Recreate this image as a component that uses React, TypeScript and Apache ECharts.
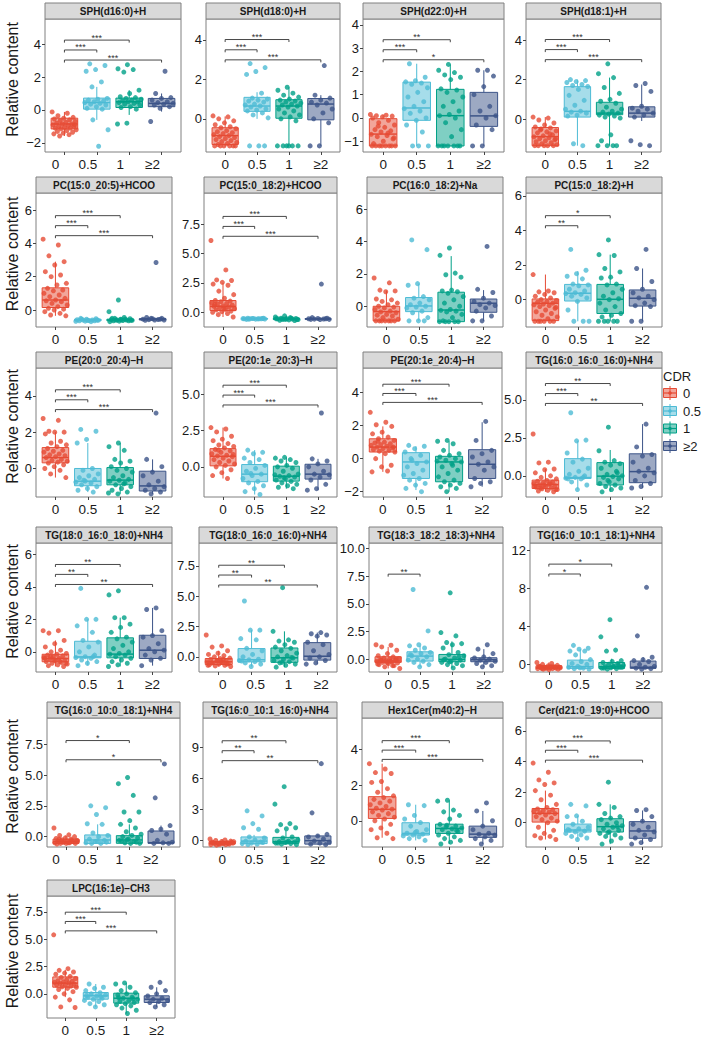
import React, { useEffect, useRef } from "react";
import * as echarts from "echarts";

const FONT = "'Liberation Sans', Arial, Helvetica, sans-serif";
const CATEGORIES = ["0", "0.5", "1", "≥2"];
const GROUP_COLORS = ["#E64B35", "#4DBBD5", "#00A087", "#3C5488"];
const GROUP_FILLS = ["rgba(230,75,53,0.5)", "rgba(77,187,213,0.5)", "rgba(0,160,135,0.5)", "rgba(60,84,136,0.5)"];

const TITLES = [
  "SPH(d16:0)+H", "SPH(d18:0)+H", "SPH(d22:0)+H", "SPH(d18:1)+H",
  "PC(15:0_20:5)+HCOO", "PC(15:0_18:2)+HCOO", "PC(16:0_18:2)+Na", "PC(15:0_18:2)+H",
  "PE(20:0_20:4)–H", "PE(20:1e_20:3)–H", "PE(20:1e_20:4)–H", "TG(16:0_16:0_16:0)+NH4",
  "TG(18:0_16:0_18:0)+NH4", "TG(18:0_16:0_16:0)+NH4", "TG(18:3_18:2_18:3)+NH4", "TG(16:0_10:1_18:1)+NH4",
  "TG(16:0_10:0_18:1)+NH4", "TG(16:0_10:1_16:0)+NH4", "Hex1Cer(m40:2)–H", "Cer(d21:0_19:0)+HCOO",
  "LPC(16:1e)–CH3",
];

const Y_TICKS = [
  [-2, 0, 2, 4], [0, 2, 4], [-1, 0, 1, 2, 3, 4], [0, 2, 4],
  [0, 2, 4, 6], [0, 2.5, 5, 7.5], [0, 2, 4, 6], [0, 2, 4, 6],
  [0, 2, 4], [0, 2.5, 5], [-2, 0, 2, 4], [0, 2.5, 5],
  [0, 2, 4, 6], [0, 2.5, 5, 7.5], [0, 2.5, 5, 7.5, 10], [0, 4, 8, 12],
  [0, 2.5, 5, 7.5], [0, 3, 6, 9], [0, 2, 4], [0, 2, 4, 6],
  [0, 2.5, 5, 7.5],
];
const Y_DECIMALS = [0, 0, 0, 0, 0, 1, 0, 0, 0, 1, 0, 1, 0, 1, 1, 0, 1, 0, 0, 0, 1];
const Y_RANGE = [
  [-2.55, 5.52], [-1.68, 5.06], [-1.46, 4.25], [-1.67, 5.07],
  [-1.02, 7.02], [-1.25, 10.14], [-1.28, 7.0], [-1.58, 6.16],
  [-1.57, 5.53], [-2.07, 6.79], [-2.32, 5.48], [-1.39, 7.09],
  [-1.24, 6.69], [-1.25, 9.38], [-1.17, 10.51], [-0.8, 12.76],
  [-0.84, 9.63], [-0.68, 11.9], [-1.47, 5.76], [-1.59, 6.85],
  [-2.21, 8.95],
];

// ---- per-panel data: box = [lower whisker, Q1, median, Q3, upper whisker] per CDR group ----
const box01 = [[-1.58, -1.15, -0.85, -0.5, -0.12], [-0.6, 0.05, 0.45, 0.72, 1.4], [-0.3, 0.15, 0.5, 0.72, 1.2], [-0.1, 0.2, 0.4, 0.7, 1.0]];
const pts01 = [
  [-0.12, -0.2, -0.35, -0.45, -0.5, -0.55, -0.6, -0.65, -0.7, -0.75, -0.8, -0.85, -0.85, -0.9, -0.95, -1.0, -1.0, -1.05, -1.1, -1.1, -1.15, -1.2, -1.25, -1.3, -1.35, -1.4, -1.45, -1.5, -1.58, -0.9],
  [2.8, 2.7, 2.45, 2.35, 1.7, 1.4, 0.7, 0.65, 0.6, 0.55, 0.5, 0.45, 0.4, 0.35, 0.3, 0.2, 0.1, 0.05, -0.6, -1.2, -2.2],
  [2.75, 2.5, 2.45, 2.3, 1.2, 1.0, 0.8, 0.75, 0.7, 0.65, 0.6, 0.55, 0.5, 0.5, 0.45, 0.4, 0.35, 0.3, 0.2, 0.15, 0.05, -0.8, -0.85],
  [2.35, 1.0, 0.75, 0.7, 0.6, 0.5, 0.45, 0.4, 0.35, 0.3, 0.2, 0.1, -0.7],
];
const sig01 = [[0, 2, 4.24, "***"], [0, 1, 3.64, "***"], [0, 3, 3.03, "***"]];

const box02 = [[-1.4, -1.3, -0.85, -0.45, 0.12], [0.0, 0.38, 0.65, 1.09, 1.35], [-1.37, 0.03, 0.65, 0.97, 1.6], [-1.37, -0.05, 0.75, 1.03, 1.2]];
const pts02 = [
  [0.15, 0.1, 0.0, -0.1, -0.2, -0.3, -0.4, -0.45, -0.5, -0.6, -0.65, -0.7, -0.75, -0.8, -0.85, -0.9, -0.95, -1.0, -1.05, -1.1, -1.15, -1.2, -1.25, -1.3, -1.37, -1.37, -1.37, -1.37, -1.37, -1.37],
  [2.8, 2.6, 2.4, 2.25, 1.3, 1.05, 1.0, 0.95, 0.9, 0.85, 0.75, 0.7, 0.65, 0.6, 0.5, 0.45, 0.4, 0.3, 0.2, 0.05, -1.37, -1.37, -1.37],
  [1.6, 1.45, 1.3, 1.2, 1.1, 1.0, 0.95, 0.9, 0.85, 0.8, 0.75, 0.7, 0.65, 0.6, 0.5, 0.4, 0.3, 0.2, 0.1, 0.0, -0.1, -1.37, -1.37, -1.37, -1.37, -1.37, -1.37],
  [2.7, 1.2, 1.05, 0.95, 0.85, 0.8, 0.7, 0.5, 0.3, 0.0, -0.2, -1.37, -1.37],
];
const sig02 = [[0, 2, 4.02, "***"], [0, 1, 3.5, "***"], [0, 3, 2.99, "***"]];

const box03 = [[-1.2, -1.2, -0.69, -0.03, 0.15], [-1.2, -0.1, 0.43, 1.54, 2.33], [-1.2, -1.2, 0.1, 1.23, 2.3], [-1.2, -0.36, 0.09, 1.1, 2.05]];
const pts03 = [
  [0.15, 0.12, 0.1, 0.08, 0.05, 0.0, -0.1, -0.2, -0.3, -0.4, -0.5, -0.55, -0.6, -0.7, -0.75, -0.8, -0.9, -1.0, -1.1, -1.2, -1.2, -1.2, -1.2, -1.2, -1.2, -1.2, -1.2, -0.65, -0.35, -0.85],
  [2.33, 1.75, 1.6, 1.55, 1.5, 1.45, 1.3, 1.1, 0.9, 0.7, 0.5, 0.4, 0.3, 0.2, 0.0, -0.1, -0.3, -0.6, -1.2, -1.2, -1.2],
  [2.3, 2.05, 1.95, 1.85, 1.75, 1.65, 1.25, 1.2, 1.1, 0.9, 0.7, 0.5, 0.3, 0.15, 0.1, 0.0, -0.2, -0.5, -0.8, -1.2, -1.2, -1.2, -1.2, -1.2, -1.2, -1.2],
  [2.05, 2.05, 1.8, 1.35, 1.0, 0.5, 0.3, 0.1, 0.0, -0.3, -0.5, -1.2, -1.2],
];
const sig03 = [[0, 2, 3.36, "**"], [0, 1, 2.93, "***"], [0, 3, 2.5, "*"]];

const box04 = [[-1.35, -1.35, -0.89, -0.43, 0.1], [-1.35, 0.1, 0.39, 1.64, 2.0], [-1.35, 0.22, 0.3, 0.85, 2.1], [-0.1, 0.1, 0.3, 0.62, 1.75]];
const pts04 = [
  [0.1, 0.05, -0.05, -0.2, -0.3, -0.4, -0.45, -0.5, -0.6, -0.65, -0.7, -0.8, -0.85, -0.9, -0.95, -1.0, -1.05, -1.1, -1.15, -1.2, -1.25, -1.3, -1.35, -1.35, -1.35, -1.35, -1.35, -0.75, -0.55, -1.0],
  [2.0, 1.95, 1.9, 1.85, 1.75, 1.7, 1.65, 1.5, 1.2, 0.95, 0.7, 0.5, 0.4, 0.35, 0.3, 0.2, 0.15, -1.35, -1.25],
  [2.8, 2.3, 2.1, 1.6, 1.3, 1.0, 0.9, 0.8, 0.6, 0.5, 0.4, 0.35, 0.3, 0.25, 0.2, 0.15, 0.1, 0.05, -0.8, -1.1, -1.35, -1.35, -1.35, -1.35],
  [1.8, 1.7, 1.4, 0.65, 0.55, 0.5, 0.4, 0.3, 0.2, 0.1, -1.35, -1.3, -1.1],
];
const sig04 = [[0, 2, 4.03, "***"], [0, 1, 3.52, "***"], [0, 3, 3.01, "***"]];

const box05 = [[-0.35, 0.15, 0.6, 1.33, 2.9], [-0.7, -0.65, -0.6, -0.55, -0.5], [-0.7, -0.65, -0.6, -0.55, -0.45], [-0.62, -0.6, -0.55, -0.52, -0.45]];
const pts05 = [
  [4.25, 3.9, 3.25, 2.9, 2.7, 2.3, 2.1, 2.0, 1.6, 1.5, 1.3, 1.2, 1.15, 1.0, 0.9, 0.8, 0.7, 0.6, 0.55, 0.5, 0.4, 0.3, 0.2, 0.1, 0.05, 0.0, -0.1, -0.2, -0.3, -0.35],
  [-0.5, -0.52, -0.55, -0.58, -0.6, -0.6, -0.62, -0.63, -0.65, -0.65, -0.67, -0.68, -0.7, -0.55, -0.6, -0.62],
  [0.6, -0.1, -0.45, -0.5, -0.52, -0.55, -0.58, -0.6, -0.6, -0.62, -0.63, -0.65, -0.65, -0.67, -0.7, -0.55, -0.6, -0.62, -0.58, -0.5],
  [2.85, -0.45, -0.5, -0.52, -0.55, -0.57, -0.58, -0.6, -0.6, -0.62, -0.55, -0.5],
];
const sig05 = [[0, 2, 5.66, "***"], [0, 1, 5.06, "***"], [0, 3, 4.46, "***"]];

const box06 = [[-0.4, 0.15, 0.5, 1.0, 2.5], [-0.6, -0.58, -0.55, -0.52, -0.5], [-0.7, -0.62, -0.55, -0.5, -0.3], [-0.62, -0.6, -0.57, -0.53, -0.45]];
const pts06 = [
  [6.1, 3.6, 2.75, 2.7, 2.55, 2.4, 2.3, 1.8, 1.5, 1.2, 1.0, 0.95, 0.9, 0.8, 0.75, 0.7, 0.6, 0.55, 0.5, 0.45, 0.4, 0.3, 0.25, 0.2, 0.1, 0.05, 0.0, -0.1, -0.2, -0.4, 0.35, 0.65],
  [-0.5, -0.52, -0.53, -0.55, -0.55, -0.56, -0.57, -0.58, -0.6, -0.55, -0.52, -0.54, -0.56, -0.58, -0.5],
  [-0.3, -0.4, -0.45, -0.5, -0.52, -0.55, -0.55, -0.57, -0.6, -0.62, -0.65, -0.68, -0.7, -0.6, -0.55, -0.5, -0.58, -0.63],
  [2.4, -0.45, -0.5, -0.53, -0.55, -0.57, -0.58, -0.6, -0.62, -0.6, -0.55],
];
const sig06 = [[0, 2, 8.15, "***"], [0, 1, 7.3, "***"], [0, 3, 6.46, "***"]];

const box07 = [[-0.9, -0.9, -0.33, 0.0, 0.97], [-0.9, -0.33, 0.02, 0.54, 1.4], [-0.95, -0.95, -0.23, 0.87, 3.1], [-0.9, -0.37, 0.19, 0.45, 1.0]];
const pts07 = [
  [1.75, 1.45, 1.0, 0.95, 0.9, 0.45, 0.4, 0.3, 0.2, 0.1, 0.0, -0.05, -0.1, -0.2, -0.3, -0.35, -0.4, -0.5, -0.55, -0.6, -0.7, -0.8, -0.9, -0.9, -0.9, -0.9, -0.9, -0.9, -0.9],
  [4.1, 3.5, 1.4, 1.3, 0.6, 0.5, 0.4, 0.2, 0.1, 0.0, -0.05, -0.1, -0.3, -0.4, -0.7, -0.9, -0.9, -0.9],
  [3.6, 3.15, 2.05, 1.95, 1.8, 1.0, 0.95, 0.9, 0.8, 0.6, 0.4, 0.2, 0.0, -0.2, -0.25, -0.3, -0.35, -0.5, -0.7, -0.9, -0.95, -0.95, -0.95, -0.95, -0.95],
  [3.7, 1.05, 0.85, 0.5, 0.3, 0.2, 0.1, 0.05, -0.1, -0.3, -0.6, -0.9, -0.9],
];
const sig07: (number | string)[][] = [];

const box08 = [[-1.25, -1.21, -0.21, 0.04, 1.45], [-1.25, -0.08, 0.37, 0.88, 1.65], [-1.25, -0.8, 0.02, 0.88, 2.6], [-1.25, -0.37, 0.08, 0.56, 1.8]];
const pts08 = [
  [1.45, 0.5, 0.45, 0.4, 0.3, 0.2, 0.1, 0.0, -0.05, -0.1, -0.15, -0.2, -0.25, -0.3, -0.35, -0.4, -0.5, -0.6, -0.7, -0.8, -0.9, -1.0, -1.1, -1.25, -1.25, -1.25, -1.25, -1.25, -1.25, -0.45],
  [2.9, 1.7, 1.5, 1.35, 1.2, 0.9, 0.85, 0.8, 0.6, 0.5, 0.4, 0.35, 0.3, 0.2, 0.1, -0.1, -0.6, -1.25, -1.25, -1.25],
  [3.45, 2.6, 2.55, 1.8, 1.6, 1.3, 1.25, 0.9, 0.85, 0.6, 0.4, 0.2, 0.05, 0.0, -0.2, -0.4, -0.6, -0.8, -0.9, -1.0, -1.25, -1.25, -1.25, -1.25, -1.25],
  [2.9, 1.8, 1.05, 0.6, 0.4, 0.2, 0.1, 0.0, -0.2, -0.35, -0.4, -1.25, -1.25],
];
const sig08 = [[0, 2, 4.85, "*"], [0, 1, 4.27, "**"]];

const box09 = [[-0.5, 0.31, 0.6, 1.15, 2.0], [-1.3, -0.95, -0.7, 0.0, 1.4], [-1.4, -0.9, -0.64, 0.05, 1.4], [-1.4, -1.24, -0.96, -0.15, 0.5]];
const pts09 = [
  [2.75, 2.65, 2.05, 2.0, 2.0, 1.9, 1.5, 1.4, 1.3, 1.2, 1.1, 1.0, 0.95, 0.9, 0.8, 0.75, 0.7, 0.65, 0.6, 0.5, 0.45, 0.4, 0.35, 0.3, 0.2, 0.1, 0.0, -0.1, -0.3, -0.5],
  [2.15, 2.05, 1.6, 1.4, 0.0, -0.1, -0.3, -0.4, -0.5, -0.6, -0.7, -0.75, -0.8, -0.9, -1.0, -1.1, -1.2, -1.3, -0.65],
  [1.4, 1.2, 1.0, 0.5, 0.4, 0.3, 0.1, 0.0, -0.1, -0.2, -0.4, -0.5, -0.6, -0.65, -0.7, -0.8, -0.9, -1.0, -1.1, -1.2, -1.3, -1.4, -1.35, -0.85],
  [3.05, 0.5, 0.1, -0.2, -0.4, -0.7, -0.9, -1.0, -1.1, -1.2, -1.3, -1.4],
];
const sig09 = [[0, 2, 4.33, "***"], [0, 1, 3.78, "***"], [0, 3, 3.24, "***"]];

const box10 = [[-0.8, 0.07, 0.73, 1.25, 2.7], [-1.9, -1.02, -0.5, 0.16, 1.15], [-1.5, -0.98, -0.64, 0.05, 0.65], [-1.6, -0.84, -0.5, 0.18, 0.55]];
const pts10 = [
  [2.7, 2.6, 2.4, 2.1, 1.9, 1.8, 1.6, 1.5, 1.4, 1.3, 1.2, 1.1, 1.0, 0.9, 0.8, 0.75, 0.7, 0.6, 0.5, 0.4, 0.3, 0.2, 0.1, 0.0, -0.2, -0.4, -0.6, -0.8, 1.15, 0.85],
  [1.15, 1.0, 0.9, 0.6, 0.5, 0.3, 0.1, -0.1, -0.3, -0.5, -0.6, -0.8, -1.0, -1.1, -1.3, -1.5, -1.7, -1.9, -0.45],
  [0.65, 0.6, 0.5, 0.4, 0.3, 0.1, 0.0, -0.1, -0.3, -0.5, -0.6, -0.65, -0.7, -0.8, -0.9, -1.0, -1.1, -1.2, -1.3, -1.4, -1.5, -0.75, -0.55],
  [3.7, 0.55, 0.4, 0.2, 0.0, -0.3, -0.5, -0.55, -0.7, -0.9, -1.2, -1.5, -1.6],
];
const sig10 = [[0, 2, 5.61, "***"], [0, 1, 4.93, "***"], [0, 3, 4.25, "***"]];

const box11 = [[-0.8, 0.4, 0.7, 1.2, 1.95], [-1.9, -1.2, -0.2, 0.36, 0.75], [-2.0, -1.4, -0.2, 0.14, 1.05], [-1.7, -1.2, -0.34, 0.54, 2.2]];
const pts11 = [
  [2.8, 2.2, 2.05, 1.95, 1.6, 1.5, 1.3, 1.2, 1.1, 1.0, 0.95, 0.9, 0.85, 0.8, 0.75, 0.7, 0.65, 0.6, 0.55, 0.5, 0.45, 0.4, 0.3, 0.0, -0.4, -0.5, -0.8, -0.75, 1.05, 0.7],
  [0.8, 0.75, 0.6, 0.4, 0.2, 0.0, -0.2, -0.3, -0.5, -0.7, -0.9, -1.0, -1.2, -1.3, -1.5, -1.6, -1.8, -2.0, -0.1],
  [1.1, 1.05, 0.9, 0.5, 0.3, 0.2, 0.1, 0.0, -0.1, -0.2, -0.3, -0.5, -0.7, -0.9, -1.1, -1.3, -1.4, -1.5, -1.6, -1.7, -1.8, -2.0, -0.15, -0.4],
  [2.25, 1.1, 0.5, 0.3, 0.1, -0.2, -0.34, -0.5, -0.7, -1.2, -1.4, -1.5, -1.7],
];
const sig11 = [[0, 2, 4.5, "***"], [0, 1, 3.94, "***"], [0, 3, 3.4, "***"]];

const box12 = [[-1.05, -0.83, -0.57, -0.28, 0.45], [-0.9, -0.17, -0.11, 1.13, 2.3], [-1.05, -0.6, -0.02, 0.87, 1.7], [-0.8, -0.45, 0.28, 1.45, 3.4]];
const pts12 = [
  [2.75, 0.9, 0.85, 0.45, 0.4, 0.2, 0.0, -0.1, -0.2, -0.3, -0.35, -0.4, -0.45, -0.5, -0.55, -0.6, -0.65, -0.7, -0.75, -0.8, -0.85, -0.9, -0.95, -1.0, -1.05, -0.6, -0.7, -0.5, -0.8, -0.9],
  [4.15, 2.35, 2.3, 1.5, 1.1, 0.9, 0.5, 0.3, 0.1, 0.0, -0.1, -0.15, -0.2, -0.4, -0.6, -0.9, -0.2, -0.1],
  [3.2, 1.65, 1.0, 0.9, 0.8, 0.7, 0.5, 0.3, 0.1, 0.0, -0.05, -0.1, -0.2, -0.4, -0.5, -0.6, -0.7, -0.8, -0.9, -1.05, 0.2, -0.3],
  [3.4, 1.9, 1.4, 1.3, 0.9, 0.5, 0.3, 0.2, 0.0, -0.3, -0.5, -0.7, -0.8],
];
const sig12 = [[0, 2, 6.07, "**"], [0, 1, 5.41, "***"], [0, 3, 4.76, "**"]];

const box13 = [[-0.9, -0.61, -0.41, -0.15, 0.7], [-0.85, -0.37, -0.31, 0.65, 2.0], [-0.9, -0.37, -0.14, 0.86, 2.1], [-0.85, -0.41, 0.1, 1.02, 2.7]];
const pts13 = [
  [1.3, 1.3, 1.15, 0.7, 0.5, 0.3, 0.1, 0.0, -0.1, -0.15, -0.2, -0.25, -0.3, -0.35, -0.4, -0.45, -0.5, -0.55, -0.6, -0.65, -0.7, -0.75, -0.8, -0.85, -0.9, -0.5, -0.4, -0.6, -0.3, -0.7],
  [3.9, 2.0, 2.0, 1.6, 1.2, 0.7, 0.6, 0.3, 0.0, -0.2, -0.3, -0.35, -0.4, -0.5, -0.6, -0.7, -0.85, -0.3],
  [3.75, 3.5, 2.1, 2.1, 1.7, 1.5, 1.2, 0.9, 0.8, 0.6, 0.4, 0.2, 0.0, -0.1, -0.15, -0.2, -0.3, -0.4, -0.5, -0.6, -0.7, -0.8, -0.9],
  [2.7, 2.6, 1.3, 1.0, 0.9, 0.5, 0.2, 0.1, 0.0, -0.2, -0.4, -0.5, -0.85],
];
const sig13 = [[0, 2, 5.37, "**"], [0, 1, 4.76, "**"], [0, 3, 4.14, "**"]];

const box14 = [[-0.8, -0.63, -0.41, -0.14, 0.5], [-0.8, -0.41, -0.24, 0.68, 2.2], [-0.85, -0.45, -0.08, 0.73, 2.1], [-0.6, -0.27, 0.05, 1.17, 2.0]];
const pts14 = [
  [1.8, 0.9, 0.8, 0.5, 0.3, 0.2, 0.1, 0.0, -0.1, -0.15, -0.2, -0.3, -0.35, -0.4, -0.45, -0.5, -0.55, -0.6, -0.65, -0.7, -0.75, -0.8, -0.4, -0.5, -0.6, -0.3, -0.7, -0.2],
  [4.6, 2.2, 2.2, 1.5, 1.4, 0.7, 0.5, 0.2, 0.0, -0.2, -0.25, -0.3, -0.4, -0.5, -0.6, -0.8, -0.35],
  [5.7, 2.1, 1.4, 1.3, 1.2, 1.0, 0.8, 0.7, 0.5, 0.3, 0.1, 0.0, -0.1, -0.2, -0.3, -0.4, -0.5, -0.6, -0.7, -0.85, -0.05, -0.45],
  [2.0, 1.9, 1.8, 1.7, 1.2, 1.0, 0.5, 0.2, 0.0, -0.1, -0.3, -0.5, -0.6],
];
const sig14 = [[0, 2, 7.55, "**"], [0, 1, 6.74, "**"], [0, 3, 5.92, "**"]];

const box15 = [[-0.85, -0.3, -0.18, 0.21, 1.1], [-0.7, -0.18, 0.27, 0.66, 1.2], [-0.8, -0.24, -0.03, 0.42, 1.6], [-0.7, -0.24, -0.06, 0.12, 0.9]];
const pts15 = [
  [1.3, 1.25, 1.1, 0.8, 0.5, 0.3, 0.2, 0.1, 0.05, 0.0, -0.05, -0.1, -0.15, -0.2, -0.25, -0.3, -0.35, -0.4, -0.5, -0.6, -0.7, -0.85, -0.2, -0.1, 0.0, -0.3, -0.45, -0.6],
  [6.3, 2.55, 1.3, 1.2, 1.0, 0.8, 0.6, 0.5, 0.3, 0.2, 0.0, -0.1, -0.2, -0.3, -0.5, -0.7, 0.4],
  [6.0, 2.4, 2.1, 1.5, 1.4, 1.3, 1.0, 0.6, 0.4, 0.3, 0.1, 0.0, -0.1, -0.2, -0.3, -0.4, -0.5, -0.6, -0.8, -0.05, 0.2, -0.25],
  [1.3, 0.9, 0.5, 0.2, 0.1, 0.0, -0.1, -0.2, -0.3, -0.4, -0.6, -0.7],
];
const sig15 = [[0, 1, 7.69, "**"]];

const box16 = [[-0.55, -0.42, -0.35, -0.14, 0.2], [-0.5, -0.42, -0.24, 0.45, 1.6], [-0.5, -0.42, -0.24, 0.2, 0.6], [-0.5, -0.42, -0.3, 0.35, 0.75]];
const pts16 = [
  [0.2, 0.1, 0.0, -0.1, -0.15, -0.2, -0.25, -0.3, -0.3, -0.35, -0.35, -0.4, -0.4, -0.45, -0.45, -0.5, -0.5, -0.55, -0.2, -0.3, -0.4, -0.35, -0.25, -0.45],
  [2.0, 1.7, 1.6, 1.4, 1.4, 1.0, 0.5, 0.3, 0.1, 0.0, -0.2, -0.3, -0.4, -0.45, -0.5, -0.35],
  [4.7, 2.9, 1.5, 1.4, 0.4, 0.3, 0.2, 0.1, 0.0, -0.1, -0.2, -0.25, -0.3, -0.35, -0.4, -0.45, -0.5, -0.3, -0.2, -0.4, -0.1],
  [8.1, 3.0, 0.75, 0.5, 0.4, 0.3, 0.0, -0.2, -0.3, -0.4, -0.45, -0.5],
];
const sig16 = [[0, 2, 10.54, "*"], [0, 1, 9.5, "*"]];

const box17 = [[-0.6, -0.55, -0.4, -0.2, 0.1], [-0.55, -0.55, -0.27, 0.14, 1.0], [-0.55, -0.54, -0.27, 0.08, 1.0], [-0.55, -0.54, -0.49, 0.46, 0.9]];
const pts17 = [
  [0.7, 0.15, 0.1, 0.0, -0.1, -0.15, -0.2, -0.25, -0.3, -0.35, -0.4, -0.4, -0.45, -0.5, -0.5, -0.55, -0.55, -0.55, -0.6, -0.3, -0.45, -0.35, -0.5, -0.2],
  [2.5, 2.35, 1.8, 1.05, 1.0, 0.3, 0.1, 0.0, -0.2, -0.3, -0.4, -0.5, -0.55, -0.55, -0.45, -0.35],
  [4.8, 4.3, 3.35, 2.0, 2.0, 1.3, 1.0, 0.7, 0.4, 0.2, 0.1, 0.0, -0.1, -0.2, -0.3, -0.4, -0.5, -0.55, -0.55, -0.35, -0.45, -0.25],
  [5.9, 3.15, 0.9, 0.6, 0.5, 0.2, -0.3, -0.45, -0.5, -0.55, -0.55],
];
const sig17 = [[0, 2, 7.8, "*"], [0, 3, 6.24, "*"]];

const box18 = [[-0.5, -0.4, -0.3, -0.15, 0.1], [-0.45, -0.35, -0.1, 0.3, 0.5], [-0.45, -0.32, -0.16, 0.26, 0.9], [-0.45, -0.4, -0.06, 0.4, 0.55]];
const pts18 = [
  [0.1, 0.0, -0.05, -0.1, -0.15, -0.2, -0.25, -0.3, -0.3, -0.35, -0.35, -0.4, -0.4, -0.45, -0.45, -0.5, -0.2, -0.3, -0.25, -0.35, -0.4, -0.15],
  [2.85, 2.35, 1.6, 1.2, 1.05, 0.3, 0.2, 0.0, -0.1, -0.2, -0.3, -0.35, -0.4, -0.45, -0.25],
  [5.2, 3.5, 1.6, 1.5, 1.2, 1.1, 0.9, 0.3, 0.2, 0.0, -0.1, -0.15, -0.2, -0.25, -0.3, -0.35, -0.4, -0.45, -0.2, -0.3],
  [7.45, 2.65, 0.55, 0.4, 0.3, 0.1, -0.1, -0.2, -0.3, -0.4, -0.45],
];
const sig18 = [[0, 2, 9.68, "**"], [0, 1, 8.71, "**"], [0, 3, 7.74, "**"]];

const box19 = [[-0.95, 0.13, 0.64, 1.35, 3.2], [-1.1, -0.8, -0.71, -0.11, 0.9], [-1.3, -0.71, -0.43, -0.19, 1.15], [-1.3, -0.93, -0.75, -0.3, 0.55]];
const pts19 = [
  [3.2, 2.9, 2.7, 2.65, 2.2, 2.15, 1.8, 1.6, 1.4, 1.3, 1.2, 1.1, 1.0, 0.9, 0.8, 0.7, 0.65, 0.6, 0.5, 0.4, 0.3, 0.2, 0.1, 0.0, -0.2, -0.4, -0.5, -0.7, -0.95, -1.0],
  [0.9, 0.85, 0.3, 0.1, -0.1, -0.3, -0.5, -0.6, -0.7, -0.75, -0.8, -0.85, -0.9, -1.0, -1.1, -0.65],
  [1.15, 1.1, 0.6, 0.5, 0.3, 0.1, -0.2, -0.3, -0.35, -0.4, -0.45, -0.5, -0.6, -0.7, -0.8, -0.9, -1.0, -1.1, -1.2, -1.3, -0.55, -0.25],
  [1.0, 0.55, 0.0, -0.3, -0.5, -0.7, -0.75, -0.8, -0.9, -1.0, -1.1, -1.3],
];
const sig19 = [[0, 2, 4.49, "***"], [0, 1, 3.96, "***"], [0, 3, 3.44, "***"]];

const box20 = [[-1.1, 0.04, 0.61, 0.93, 2.1], [-1.1, -0.61, -0.48, -0.09, 0.45], [-1.4, -0.61, -0.26, 0.26, 1.2], [-1.4, -1.02, -0.54, 0.07, 0.8]];
const pts20 = [
  [3.9, 3.3, 2.8, 2.6, 2.5, 2.1, 1.8, 1.5, 1.2, 1.0, 0.9, 0.85, 0.8, 0.75, 0.7, 0.65, 0.6, 0.5, 0.4, 0.3, 0.2, 0.1, 0.0, -0.3, -0.5, -0.7, -0.85, -0.9, -1.0, -1.1],
  [1.2, 1.1, 0.45, 0.4, 0.1, -0.1, -0.3, -0.4, -0.5, -0.55, -0.6, -0.7, -0.8, -0.9, -1.0, -1.1, -0.45],
  [2.65, 1.2, 1.0, 0.6, 0.4, 0.3, 0.2, 0.0, -0.1, -0.2, -0.3, -0.4, -0.5, -0.6, -0.7, -0.8, -0.9, -1.0, -1.2, -1.4, -0.25, -0.65],
  [0.85, 0.8, 0.4, 0.1, -0.1, -0.3, -0.5, -0.6, -0.8, -1.0, -1.1, -1.3, -1.4],
];
const sig20 = [[0, 2, 5.35, "***"], [0, 1, 4.74, "***"], [0, 3, 4.09, "***"]];

const box21 = [[-0.3, 0.61, 0.98, 1.55, 2.2], [-1.2, -0.49, -0.18, 0.12, 0.9], [-1.8, -0.85, -0.4, 0.06, 1.0], [-1.2, -0.79, -0.49, -0.18, 0.6]];
const pts21 = [
  [5.4, 2.3, 2.15, 2.0, 1.9, 1.8, 1.6, 1.5, 1.4, 1.3, 1.2, 1.15, 1.1, 1.05, 1.0, 0.95, 0.9, 0.85, 0.8, 0.7, 0.65, 0.6, 0.5, 0.4, 0.2, 0.0, -0.3, -0.55, -1.2, -1.25],
  [0.9, 0.6, 0.5, 0.3, 0.1, 0.0, -0.1, -0.2, -0.3, -0.4, -0.5, -0.6, -0.7, -0.9, -1.0, -1.2, -0.15, -0.25],
  [1.0, 0.9, 0.6, 0.3, 0.1, 0.0, -0.1, -0.3, -0.4, -0.5, -0.6, -0.7, -0.8, -0.9, -1.0, -1.1, -1.3, -1.5, -1.8, -0.35, -0.45],
  [1.05, 0.6, 0.3, 0.0, -0.2, -0.4, -0.5, -0.6, -0.7, -0.8, -1.0, -1.2],
];
const sig21 = [[0, 2, 7.47, "***"], [0, 1, 6.62, "***"], [0, 3, 5.76, "***"]];

const BOXES = [box01, box02, box03, box04, box05, box06, box07, box08, box09, box10, box11, box12, box13, box14, box15, box16, box17, box18, box19, box20, box21];
const POINTS = [pts01, pts02, pts03, pts04, pts05, pts06, pts07, pts08, pts09, pts10, pts11, pts12, pts13, pts14, pts15, pts16, pts17, pts18, pts19, pts20, pts21];
const SIGS: any[] = [sig01, sig02, sig03, sig04, sig05, sig06, sig07, sig08, sig09, sig10, sig11, sig12, sig13, sig14, sig15, sig16, sig17, sig18, sig19, sig20, sig21];

// ---- layout (pixels) ----
const PANEL_X = [
  [45, 181], [206, 340], [363, 504], [526, 661],
  [36, 172], [204, 337], [367, 503], [526, 662],
  [36, 172], [204, 337], [363, 502], [526, 662],
  [36, 172], [199, 337], [369, 503], [530, 662],
  [47, 180], [203, 337], [362, 503], [526, 662],
  [47, 175],
];
const LABEL_DX = [-9, 0, 0, 0, 0, 0, 0, 0, 0, 0, 0, 0, 0, 4, 0, 0, -10, 0, 0, 0, 0];
const STRIP_TOP = [3, 177, 352, 527, 702, 880];
const PLOT_BOTTOM = [152, 327, 497, 672, 847, 1018];
const STRIP_H = 16;

function jitter(g: number, k: number): number {
  const f = (k * 0.6180339887 + g * 0.2137) % 1;
  return (f - 0.5) * 0.76;
}

function fmtTick(v: number, dec: number): string {
  const s = Math.abs(v).toFixed(dec);
  return v < 0 ? "\u2212" + s : s;
}

function buildOption() {
  const grid: any[] = [];
  const xAxis: any[] = [];
  const yAxis: any[] = [];
  const series: any[] = [];
  const graphic: any[] = [];

  for (let i = 0; i < TITLES.length; i++) {
    const row = Math.floor(i / 4);
    const [L, R] = PANEL_X[i];
    const top = STRIP_TOP[row] + STRIP_H;
    const bottom = PLOT_BOTTOM[row];
    grid.push({
      left: L, top, width: R - L, height: bottom - top,
      show: true, borderColor: "#808080", borderWidth: 1, backgroundColor: "rgba(0,0,0,0)",
    });
    const dx = LABEL_DX[i];
    xAxis.push({
      type: "value", gridIndex: i, min: -0.6, max: 3.6, position: "bottom",
      axisLine: { show: false, onZero: false }, splitLine: { show: false }, minorTick: { show: false },
      axisTick: { show: true, length: 3, customValues: [0, 1, 2, 3], lineStyle: { color: "#444" } },
      axisLabel: {
        customValues: [0, 1, 2, 3],
        formatter: (v: number) => CATEGORIES[Math.round(v)],
        fontSize: 13.5, color: "#1a1a1a", fontFamily: FONT, margin: 5,
        padding: dx < 0 ? [0, -2 * dx, 0, 0] : [0, 0, 0, 2 * dx],
      },
    });
    const dec = Y_DECIMALS[i];
    yAxis.push({
      type: "value", gridIndex: i, min: Y_RANGE[i][0], max: Y_RANGE[i][1], position: "left",
      axisLine: { show: false, onZero: false }, splitLine: { show: false }, minorTick: { show: false },
      axisTick: { show: true, length: 3, customValues: Y_TICKS[i], lineStyle: { color: "#444" } },
      axisLabel: {
        customValues: Y_TICKS[i],
        formatter: (v: number) => fmtTick(v, dec),
        fontSize: 13, color: "#1a1a1a", fontFamily: FONT, margin: 4,
      },
    });

    // boxes
    series.push({
      type: "custom", xAxisIndex: i, yAxisIndex: i,
      encode: { x: 0, y: [1, 2, 3, 4, 5] },
      data: BOXES[i].map((b, g) => [g, ...b]),
      renderItem: (_p: any, api: any) => {
        const x = api.value(0);
        const g = Math.round(x);
        const hw = 0.41;
        const tl = api.coord([x - hw, api.value(4)]);
        const br = api.coord([x + hw, api.value(2)]);
        const lo = api.coord([x, api.value(1)]);
        const hi = api.coord([x, api.value(5)]);
        const md = api.coord([x, api.value(3)]);
        const c = GROUP_COLORS[g];
        return {
          type: "group",
          children: [
            { type: "line", shape: { x1: hi[0], y1: hi[1], x2: hi[0], y2: tl[1] }, style: { stroke: c, lineWidth: 1 } },
            { type: "line", shape: { x1: lo[0], y1: lo[1], x2: lo[0], y2: br[1] }, style: { stroke: c, lineWidth: 1 } },
            { type: "rect", shape: { x: tl[0], y: tl[1], width: br[0] - tl[0], height: Math.max(br[1] - tl[1], 0.5) }, style: { fill: GROUP_FILLS[g], stroke: c, lineWidth: 1 } },
            { type: "line", shape: { x1: tl[0], y1: md[1], x2: br[0], y2: md[1] }, style: { stroke: c, lineWidth: 1.5 } },
          ],
        };
      },
      z: 2,
    });

    // jittered points
    const pdata: any[] = [];
    POINTS[i].forEach((arr: number[], g: number) => {
      arr.forEach((v, k) => {
        pdata.push({ value: [g + jitter(g, k), v], itemStyle: { color: GROUP_COLORS[g] } });
      });
    });
    series.push({
      type: "scatter", xAxisIndex: i, yAxisIndex: i, symbolSize: 5,
      data: pdata, z: 3, silent: true,
    });

    // significance brackets
    const sigs = SIGS[i];
    if (sigs.length) {
      series.push({
        type: "custom", xAxisIndex: i, yAxisIndex: i,
        encode: { x: [0, 1], y: 2 },
        data: sigs.map((s: any) => [s[0], s[1], s[2]]),
        renderItem: (p: any, api: any) => {
          const a = api.coord([api.value(0), api.value(2)]);
          const b = api.coord([api.value(1), api.value(2)]);
          const label = sigs[p.dataIndex][3];
          const col = "#333";
          return {
            type: "group",
            children: [
              { type: "polyline", shape: { points: [[a[0], a[1] + 2.5], [a[0], a[1]], [b[0], b[1]], [b[0], b[1] + 2.5]] }, style: { stroke: col, lineWidth: 0.9, fill: null } },
              { type: "text", x: (a[0] + b[0]) / 2, y: a[1] + 2, style: { text: label, align: "center", verticalAlign: "bottom", fontSize: 9, fill: col, fontFamily: FONT } },
            ],
          };
        },
        z: 4,
      });
    }

    // strip header
    graphic.push({
      type: "rect", shape: { x: L, y: STRIP_TOP[row], width: R - L, height: STRIP_H },
      style: { fill: "#D9D9D9", stroke: "#808080", lineWidth: 1 }, silent: true,
    });
    graphic.push({
      type: "text", x: (L + R) / 2, y: STRIP_TOP[row] + STRIP_H / 2 + 0.5,
      style: { text: TITLES[i], align: "center", verticalAlign: "middle", fontSize: 10, fontWeight: "bold", fill: "#1a1a1a", fontFamily: FONT },
      silent: true,
    });
  }

  // y axis titles (first column)
  for (let r = 0; r < STRIP_TOP.length; r++) {
    graphic.push({
      type: "text", x: 12, y: (STRIP_TOP[r] + PLOT_BOTTOM[r]) / 2 + 2, rotation: Math.PI / 2,
      style: { text: "Relative content", align: "center", verticalAlign: "middle", fontSize: 16, fill: "#1a1a1a", fontFamily: FONT },
      silent: true,
    });
  }

  // legend
  graphic.push({
    type: "text", x: 663, y: 376,
    style: { text: "CDR", align: "left", verticalAlign: "middle", fontSize: 13, fill: "#1a1a1a", fontFamily: FONT },
    silent: true,
  });
  const keyY = [393, 411, 428.5, 446];
  CATEGORIES.forEach((cat, g) => {
    const cy = keyY[g];
    const cx = 670;
    const c = GROUP_COLORS[g];
    graphic.push({ type: "line", shape: { x1: cx, y1: cy - 7, x2: cx, y2: cy + 7 }, style: { stroke: c, lineWidth: 1 }, silent: true });
    graphic.push({ type: "rect", shape: { x: cx - 6.5, y: cy - 4.5, width: 13, height: 9 }, style: { fill: GROUP_FILLS[g], stroke: c, lineWidth: 1 }, silent: true });
    graphic.push({ type: "line", shape: { x1: cx - 6.5, y1: cy, x2: cx + 6.5, y2: cy }, style: { stroke: c, lineWidth: 1.2 }, silent: true });
    graphic.push({ type: "circle", shape: { cx, cy, r: 1.8 }, style: { fill: c }, silent: true });
    graphic.push({
      type: "text", x: 683, y: cy,
      style: { text: cat, align: "left", verticalAlign: "middle", fontSize: 13, fill: "#1a1a1a", fontFamily: FONT },
      silent: true,
    });
  });

  return {
    animation: false,
    backgroundColor: "#ffffff",
    textStyle: { fontFamily: FONT },
    grid, xAxis, yAxis, series, graphic,
  };
}

export default function App() {
  const ref = useRef<HTMLDivElement>(null);
  useEffect(() => {
    if (!ref.current) return;
    const chart = echarts.init(ref.current, undefined, { renderer: "svg" });
    chart.setOption(buildOption() as any);
    return () => chart.dispose();
  }, []);
  return <div ref={ref} style={{ position: "absolute", left: 0, top: 0, width: 709, height: 1038 }} />;
}
